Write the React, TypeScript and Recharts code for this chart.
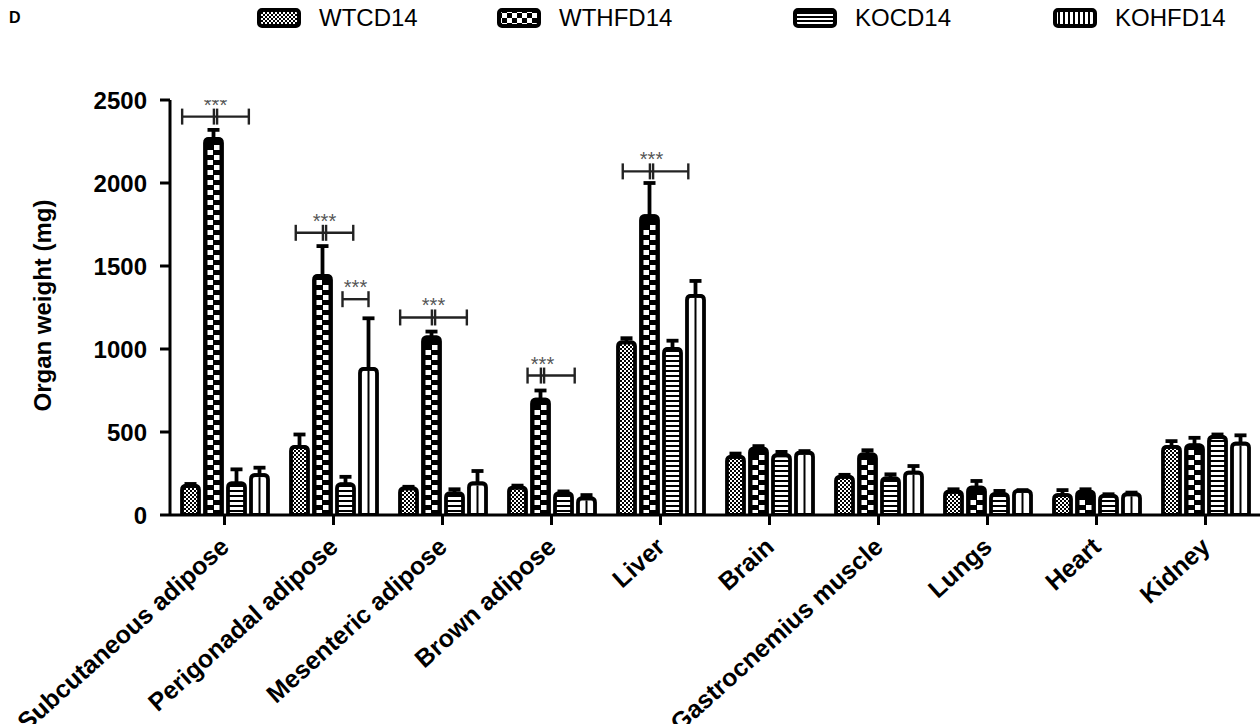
import React from 'react';
import { BarChart, Bar, XAxis, YAxis, ErrorBar } from 'recharts';

const organs = ['Subcutaneous adipose', 'Perigonadal adipose', 'Mesenteric adipose', 'Brown adipose', 'Liver', 'Brain', 'Gastrocnemius muscle', 'Lungs', 'Heart', 'Kidney'];
const seriesNames = ['WTCD14', 'WTHFD14', 'KOCD14', 'KOHFD14'];

const wtcd = [175, 410, 160, 165, 1040, 350, 230, 140, 120, 410];
const wtcdErr = [12, 75, 10, 12, 25, 20, 12, 15, 30, 35];
const wthfd = [2265, 1440, 1070, 695, 1800, 400, 365, 165, 140, 420];
const wthfdErr = [55, 180, 35, 55, 200, 15, 25, 40, 15, 45];
const kocd = [190, 185, 130, 130, 1000, 360, 220, 125, 115, 470];
const kocdErr = [85, 45, 25, 12, 50, 20, 25, 20, 10, 15];
const kohfd = [240, 880, 190, 100, 1320, 375, 255, 145, 125, 430];
const kohfdErr = [45, 305, 75, 20, 90, 10, 40, 5, 10, 50];

const yTicks = [0, 500, 1000, 1500, 2000, 2500];

// significance annotations (WTHFD vs neighbours), level in mg
const sigOrgans = ['Subcutaneous adipose', 'Perigonadal adipose', 'Mesenteric adipose', 'Brown adipose', 'Liver'];
const sigLevels = [2400, 1700, 1190, 840, 2070];
const sigLeftSpan = [1.45, 1.25, 1.45, 0.65, 1.25];
const sigRightSpan = [1.45, 1.25, 1.45, 1.4, 1.6];
// KOCD vs KOHFD annotation
const koSigOrgans = ['Perigonadal adipose'];
const koSigLevels = [1300];

const BAR_SIZE = 17;
const BAR_GAP = 6;

const data = organs.map((organ, i) => ({
  organ,
  WTCD14: wtcd[i],
  WTCD14_err: [0, wtcdErr[i]],
  WTHFD14: wthfd[i],
  WTHFD14_err: [0, wthfdErr[i]],
  KOCD14: kocd[i],
  KOCD14_err: [0, kocdErr[i]],
  KOHFD14: kohfd[i],
  KOHFD14_err: [0, kohfdErr[i]],
}));

const FONT = '"Liberation Sans", Arial, Helvetica, sans-serif';

function outlinePath(x: number, y: number, w: number, h: number) {
  const r = Math.min(4, w / 2, h);
  const b = y + h;
  return `M${x},${b} L${x},${y + r} Q${x},${y} ${x + r},${y} L${x + w - r},${y} Q${x + w},${y} ${x + w},${y + r} L${x + w},${b} Z`;
}

function Bracket({ x1, x2, y, doubleAt }: { x1: number; x2: number; y: number; doubleAt?: number }) {
  const st = { stroke: '#222', strokeWidth: 2.4 };
  return (
    <g>
      <line x1={x1} y1={y} x2={x2} y2={y} {...st} />
      <line x1={x1} y1={y - 8} x2={x1} y2={y + 8} {...st} />
      <line x1={x2} y1={y - 8} x2={x2} y2={y + 8} {...st} />
      {doubleAt !== undefined && (
        <>
          <line x1={doubleAt - 1.6} y1={y - 8} x2={doubleAt - 1.6} y2={y + 8} {...st} />
          <line x1={doubleAt + 1.6} y1={y - 8} x2={doubleAt + 1.6} y2={y + 8} {...st} />
        </>
      )}
    </g>
  );
}

function Stars({ x, y }: { x: number; y: number }) {
  return (
    <text x={x} y={y} textAnchor="middle" fontFamily={FONT} fontSize={20} fill="#555">
      ***
    </text>
  );
}

function makeShape(kind: string) {
  return (props: any) => {
    const { x, y, width: w, height: h, payload } = props;
    if (!(h > 0)) return <g />;
    const b = y + h;
    const d = outlinePath(x, y, w, h);
    const parts: React.ReactNode[] = [];
    if (kind === 'WTCD14') {
      parts.push(<path key="f" d={d} fill="url(#pWTCD)" />);
    } else if (kind === 'WTHFD14') {
      parts.push(<path key="f" d={d} fill="#000" />);
      const inset = 2.5;
      const iw = w - 2 * inset;
      const cell = 5;
      const rows = Math.floor((h - 4) / cell);
      for (let i = 0; i < rows; i++) {
        parts.push(
          <rect key={'c' + i} x={x + inset + (i % 2 ? iw / 2 + 0.5 : 0)} y={b - (i + 1) * cell} width={iw / 2 - 0.5} height={cell} fill="#fff" />
        );
      }
    } else if (kind === 'KOCD14') {
      parts.push(<path key="f" d={d} fill="url(#pKOCD)" />);
    } else {
      parts.push(<path key="f" d={d} fill="#fff" />);
      parts.push(<line key="v" x1={x + w / 2} y1={y + 2} x2={x + w / 2} y2={b} stroke="#000" strokeWidth={2} />);
    }
    parts.push(<path key="o" d={d} fill="none" stroke="#000" strokeWidth={3.8} strokeLinejoin="round" />);

    const val = payload[kind];
    const ppu = h / val;
    const pitch = w + BAR_GAP;
    if (kind === 'WTHFD14') {
      const si = sigOrgans.indexOf(payload.organ);
      if (si >= 0) {
        const yy = b - sigLevels[si] * ppu;
        const cx = x + w / 2 + 2;
        parts.push(
          <g key="sig">
            <Bracket x1={cx - sigLeftSpan[si] * pitch} x2={cx + sigRightSpan[si] * pitch} y={yy} doubleAt={cx} />
            <Stars x={cx} y={yy - 5} />
          </g>
        );
      }
    }
    if (kind === 'KOHFD14') {
      const ki = koSigOrgans.indexOf(payload.organ);
      if (ki >= 0) {
        const yy = b - koSigLevels[ki] * ppu;
        const cxR = x + w / 2;
        const cxL = cxR - pitch - 3;
        parts.push(
          <g key="ksig">
            <Bracket x1={cxL} x2={cxR} y={yy} />
            <Stars x={(cxL + cxR) / 2} y={yy - 5} />
          </g>
        );
      }
    }
    return <g>{parts}</g>;
  };
}

function XTick(props: any) {
  const { x, y, payload } = props;
  const tx = x + 6;
  const ty = y + 22;
  return (
    <text
      x={tx}
      y={ty}
      transform={`rotate(-42, ${tx}, ${ty})`}
      textAnchor="end"
      fontFamily={FONT}
      fontWeight="bold"
      fontSize={25}
      fill="#000"
    >
      {payload.value}
    </text>
  );
}

function YLabel(props: any) {
  const vb = props.viewBox;
  const cx = 42;
  const cy = vb.y + vb.height / 2 - 2;
  return (
    <text
      x={cx}
      y={cy}
      transform={`rotate(-90, ${cx}, ${cy})`}
      textAnchor="middle"
      dominantBaseline="central"
      fontFamily={FONT}
      fontWeight="bold"
      fontSize={24}
      fill="#000"
    >
      Organ weight (mg)
    </text>
  );
}

function LegendIcon({ kind }: { kind: string }) {
  const fill = kind === 'WTCD14' ? 'url(#pWTCD)' : kind === 'WTHFD14' ? 'url(#pWTHFDL)' : kind === 'KOCD14' ? 'url(#pKOCDL)' : 'url(#pKOHFDL)';
  return (
    <svg width={44} height={20} style={{ display: 'block' }}>
      <rect x={2} y={2} width={40} height={16} rx={3} fill={fill} stroke="#000" strokeWidth={4} />
    </svg>
  );
}

const legendLefts = [257, 497, 793, 1053];

export default function App() {
  return (
    <div style={{ position: 'absolute', left: 0, top: 0, width: 1260, height: 724, background: '#fff', overflow: 'hidden' }}>
      <svg width={0} height={0} style={{ position: 'absolute' }}>
        <defs>
          <pattern id="pWTCD" width={4} height={4} patternUnits="userSpaceOnUse">
            <rect width={4} height={4} fill="#fff" />
            <rect x={0} y={0} width={2} height={2} fill="#000" />
            <rect x={2} y={2} width={2} height={2} fill="#000" />
          </pattern>
          <pattern id="pKOCD" width={10} height={5} patternUnits="userSpaceOnUse">
            <rect width={10} height={5} fill="#fff" />
            <rect x={0} y={0} width={10} height={2} fill="#000" />
          </pattern>
          <pattern id="pWTHFDL" width={10} height={10} patternUnits="userSpaceOnUse">
            <rect width={10} height={10} fill="#000" />
            <rect x={0} y={0} width={5} height={5} fill="#fff" />
            <rect x={5} y={5} width={5} height={5} fill="#fff" />
          </pattern>
          <pattern id="pKOCDL" width={10} height={4} patternUnits="userSpaceOnUse">
            <rect width={10} height={4} fill="#fff" />
            <rect x={0} y={0} width={10} height={2} fill="#000" />
          </pattern>
          <pattern id="pKOHFDL" width={5} height={10} patternUnits="userSpaceOnUse">
            <rect width={5} height={10} fill="#fff" />
            <rect x={0} y={0} width={2} height={10} fill="#000" />
          </pattern>
        </defs>
      </svg>
      <div style={{ position: 'absolute', left: 9, top: 9, fontFamily: FONT, fontWeight: 'bold', fontSize: 16 }}>D</div>
      {seriesNames.map((s, i) => (
        <div key={s} style={{ position: 'absolute', left: legendLefts[i], top: 4, display: 'flex', alignItems: 'center', fontFamily: FONT, fontSize: 24, lineHeight: '28px' }}>
          <LegendIcon kind={s} />
          <span style={{ marginLeft: 18 }}>{s}</span>
        </div>
      ))}
      <div style={{ position: 'absolute', left: 0, top: 0 }}>
        <BarChart width={1260} height={724} data={data} margin={{ top: 100, right: 0, left: 0, bottom: 0 }} barSize={BAR_SIZE} barGap={BAR_GAP}>
          <XAxis
            dataKey="organ"
            height={209}
            interval={0}
            axisLine={{ stroke: '#000', strokeWidth: 3 }}
            tickLine={{ stroke: '#000', strokeWidth: 3 }}
            tickSize={10}
            tick={<XTick />}
          />
          <YAxis
            width={170}
            domain={[0, 2500]}
            ticks={yTicks}
            allowDataOverflow
            axisLine={{ stroke: '#000', strokeWidth: 3 }}
            tickLine={{ stroke: '#000', strokeWidth: 3 }}
            tickSize={10}
            tickMargin={13}
            tick={{ fontFamily: FONT, fontWeight: 'bold', fontSize: 24, fill: '#000' }}
            label={<YLabel />}
          />
          {seriesNames.map((s) => (
            <Bar key={s} dataKey={s} isAnimationActive={false} shape={makeShape(s)}>
              <ErrorBar dataKey={s + '_err'} width={6} stroke="#000" strokeWidth={3.8} direction="y" />
            </Bar>
          ))}
        </BarChart>
      </div>
    </div>
  );
}
